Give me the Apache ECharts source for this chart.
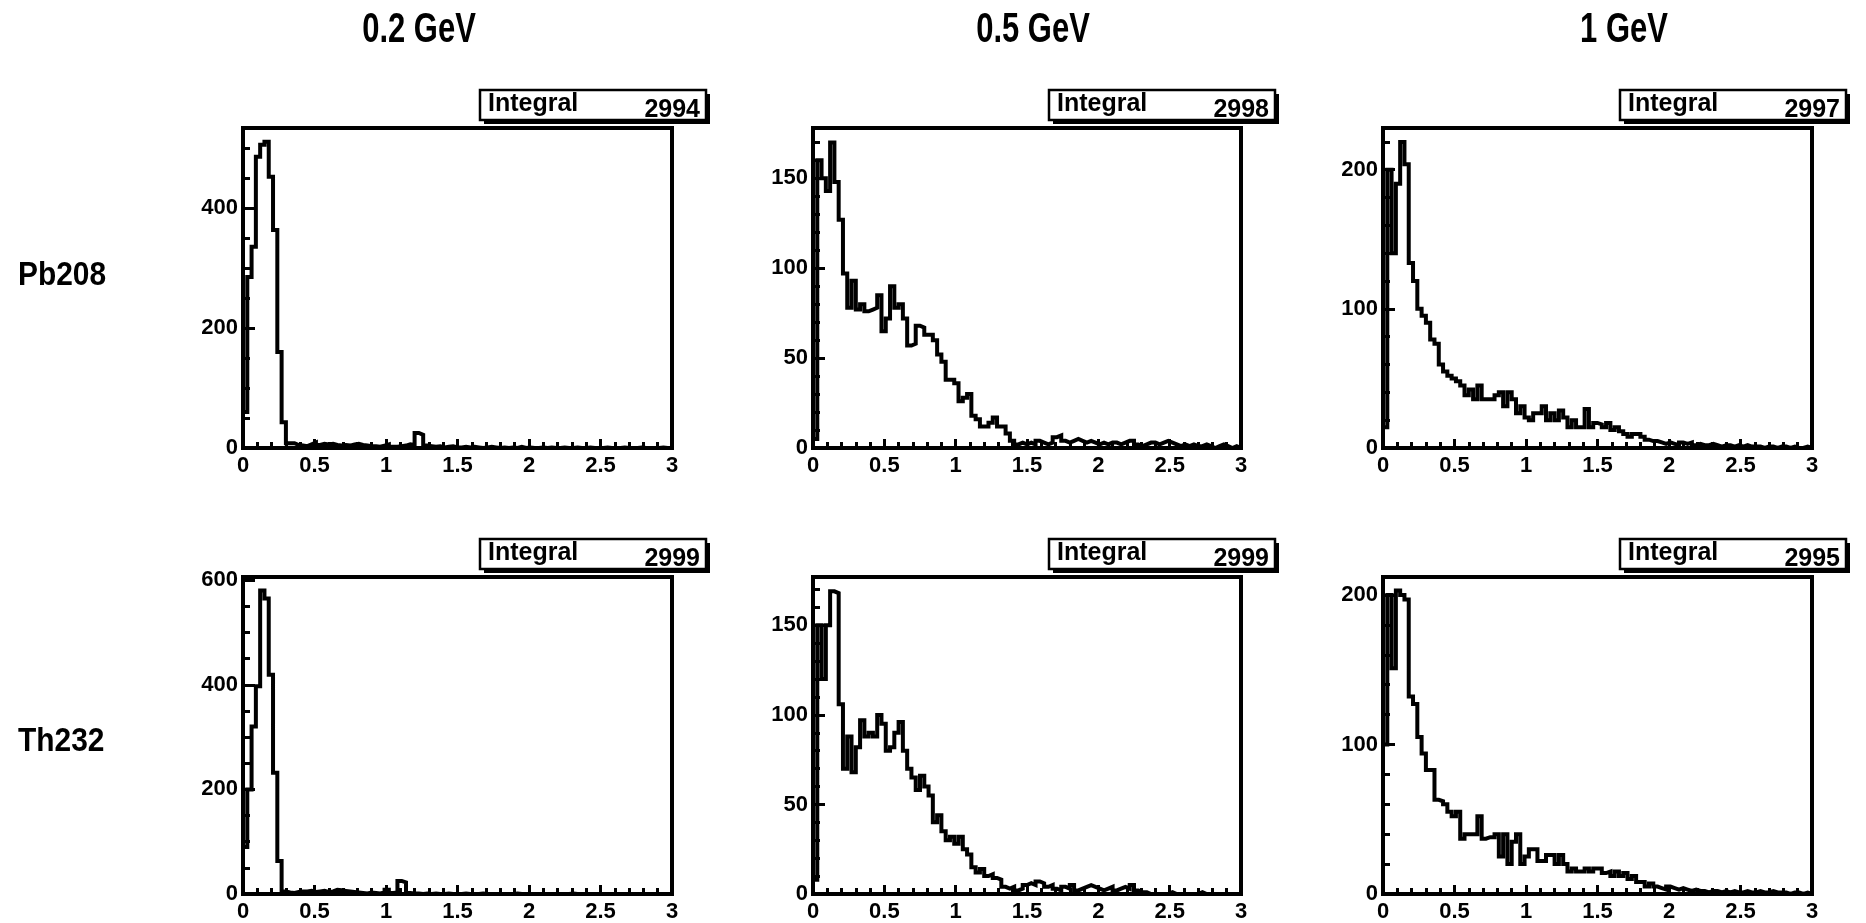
<!DOCTYPE html>
<html>
<head>
<meta charset="utf-8">
<title>Histograms</title>
<script src="https://cdn.jsdelivr.net/npm/echarts@6.0.0/dist/echarts.min.js"></script>
<style>
  html, body { margin: 0; padding: 0; background: #fff; }
  #main { width: 1866px; height: 923px; }
</style>
</head>
<body>
<div id="main"></div>
<script>
// Column / row headings
const energies = ['0.2 GeV', '0.5 GeV', '1 GeV'];
const nuclei = ['Pb208', 'Th232'];

// Histogram binning: 100 bins on [0, 3]
const xLo = 0, xHi = 3;
const xTicks = ['0', '0.5', '1', '1.5', '2', '2.5', '3'];

// Bin contents, one array per panel
const pb208_02 = [
  60, 285, 335, 485, 505, 510, 452, 363, 160, 43,
  8, 8, 5, 4, 3, 6, 9, 5, 7, 6,
  7, 5, 4, 5, 4, 6, 7, 5, 4, 3,
  3, 2, 4, 6, 2, 2, 3, 4, 6, 5,
  25, 22, 4, 3, 2, 3, 1, 2, 3, 1,
  1, 2, 1, 2, 1, 0, 1, 2, 1, 0,
  1, 0, 1, 0, 2, 0, 1, 0, 0, 1,
  0, 1, 0, 0, 1, 0, 0, 1, 0, 0,
  1, 0, 0, 0, 1, 0, 0, 0, 1, 0,
  0, 0, 1, 0, 0, 0, 0, 1, 0, 0
];
const pb208_05 = [
  5, 160, 150, 143, 170, 148, 127, 97, 78, 93,
  77, 80, 76, 77, 78, 85, 65, 72, 90, 78,
  80, 72, 57, 58, 68, 67, 63, 63, 60, 52,
  48, 38, 38, 36, 26, 28, 30, 18, 16, 12,
  12, 14, 17, 12, 12, 8, 4, 2, 3, 2,
  3, 2, 4, 3, 2, 3, 6, 7, 4, 3,
  4, 5, 4, 3, 4, 3, 2, 3, 2, 3,
  3, 2, 3, 4, 4, 2, 1, 2, 3, 3,
  2, 3, 4, 3, 2, 1, 2, 1, 2, 1,
  1, 2, 1, 0, 1, 2, 1, 0, 1, 0
];
const pb208_1 = [
  15, 200, 140, 190, 220, 204, 133, 120, 100, 95,
  90, 78, 75, 60, 55, 52, 50, 48, 45, 38,
  42, 35, 45, 35, 35, 35, 38, 40, 30, 40,
  35, 25, 30, 22, 20, 25, 25, 30, 20, 25,
  20, 27, 22, 15, 20, 15, 15, 28, 15, 18,
  17, 15, 18, 13, 15, 12, 10, 8, 10, 10,
  8, 6, 5, 5, 4, 3, 4, 3, 2, 4,
  3, 4, 2, 3, 2, 2, 3, 2, 1, 2,
  2, 1, 2, 1, 2, 1, 1, 1, 0, 1,
  1, 0, 1, 1, 0, 1, 0, 0, 1, 0
];
const th232_02 = [
  90, 200, 320, 397, 580, 565, 419, 232, 63, 5,
  3, 2, 4, 5, 5, 6, 4, 5, 6, 4,
  5, 8, 7, 6, 5, 4, 3, 2, 1, 3,
  2, 1, 3, 8, 2, 3, 25, 22, 2, 1,
  1, 0, 1, 0, 1, 0, 0, 1, 0, 0,
  0, 1, 0, 0, 0, 1, 0, 0, 0, 0,
  0, 0, 0, 1, 0, 0, 0, 0, 0, 0,
  0, 0, 0, 0, 0, 0, 1, 0, 0, 0,
  0, 0, 0, 0, 0, 0, 0, 0, 0, 0,
  0, 0, 0, 0, 0, 0, 0, 0, 0, 0
];
const th232_05 = [
  8, 150, 120, 150, 169, 168, 106, 70, 88, 68,
  82, 97, 88, 90, 88, 100, 95, 80, 82, 90,
  96, 80, 70, 65, 58, 66, 60, 55, 40, 44,
  35, 30, 32, 28, 32, 25, 22, 15, 12, 14,
  10, 11, 9, 8, 4, 3, 4, 2, 3, 5,
  6, 5, 7, 6, 4, 5, 3, 2, 4, 3,
  5, 2, 3, 4, 5, 4, 3, 2, 3, 4,
  2, 3, 4, 3, 5, 2, 1, 1, 0, 0,
  0, 0, 0, 1, 0, 0, 0, 0, 0, 0,
  1, 0, 0, 0, 0, 0, 0, 0, 0, 0
];
const th232_1 = [
  100, 200, 151, 203, 200, 197, 132, 127, 105, 94,
  83, 83, 63, 62, 60, 55, 52, 55, 37, 40,
  40, 40, 52, 37, 38, 38, 40, 25, 40, 20,
  35, 40, 20, 25, 30, 30, 22, 22, 26, 26,
  20, 26, 20, 15, 17, 15, 15, 17, 15, 17,
  17, 14, 15, 12, 15, 12, 14, 10, 12, 8,
  8, 5, 7, 5, 4, 3, 5, 4, 3, 4,
  3, 2, 3, 2, 2, 1, 2, 2, 1, 2,
  1, 2, 1, 1, 2, 1, 1, 2, 1, 1,
  2, 1, 1, 1, 0, 1, 1, 0, 1, 0
];

// Stated integrals shown in each statistics box
const integrals = [[2994, 2998, 2997], [2999, 2999, 2995]];

// Vertical axis setup per panel: upper limit, labelled step, small-tick step
const yMax = [[533, 178, 230], [606, 177, 212]];
const yStep = [[200, 50, 100], [200, 50, 100]];
const yMinorStep = [[50, 10, 20], [50, 10, 20]];

const panels = [[pb208_02, pb208_05, pb208_1], [th232_02, th232_05, th232_1]];

// Frame geometry (pixels)
const colLeft = [243, 813, 1383];
const colWidth = [429, 428, 429];
const rowTop = [128, 577];
const rowHeight = [320, 318];

const FONT = '"Liberation Sans", Arial, Helvetica, sans-serif';
const LW = 4;

// Step outline of a histogram, in data coordinates
function histOutline(counts) {
  const w = (xHi - xLo) / counts.length;
  const pts = [[xLo, 0]];
  counts.forEach((c, i) => pts.push([+(xLo + i * w).toFixed(6), c]));
  pts.push([xHi, counts[counts.length - 1]]);
  pts.push([xHi, 0]);
  return pts;
}

const grids = [], xAxes = [], yAxes = [], series = [], graphics = [];

for (let r = 0; r < 2; r++) {
  for (let c = 0; c < 3; c++) {
    const gi = r * 3 + c;
    grids.push({
      left: colLeft[c], top: rowTop[r], width: colWidth[c], height: rowHeight[r],
      show: true, borderColor: '#000', borderWidth: LW, backgroundColor: 'transparent'
    });
    xAxes.push({
      type: 'value', gridIndex: gi, min: xLo, max: xHi, interval: 0.5,
      axisLine: { show: true, onZero: false, lineStyle: { color: '#000', width: LW } },
      axisTick: { show: true, inside: true, length: 9, lineStyle: { color: '#000', width: 3 } },
      minorTick: { show: true, splitNumber: 5, length: 6, lineStyle: { color: '#000', width: 3 } },
      splitLine: { show: false },
      axisLabel: {
        margin: 7, color: '#000', fontFamily: FONT, fontWeight: 'bold', fontSize: 22,
        formatter: v => xTicks[Math.round(v / 0.5)]
      }
    });
    // labelled axis
    yAxes.push({
      type: 'value', gridIndex: gi, position: 'left', min: 0, max: yMax[r][c], interval: yStep[r][c],
      axisLine: { show: true, onZero: false, lineStyle: { color: '#000', width: LW } },
      axisTick: { show: true, inside: true, length: 12, lineStyle: { color: '#000', width: 3 } },
      splitLine: { show: false },
      axisLabel: {
        margin: 5, color: '#000', fontFamily: FONT, fontWeight: 'bold', fontSize: 22,
        showMaxLabel: false
      }
    });
    // small ticks only
    yAxes.push({
      type: 'value', gridIndex: gi, position: 'left', offset: 0, min: 0, max: yMax[r][c],
      interval: yMinorStep[r][c],
      axisLine: { show: false },
      axisTick: { show: true, inside: true, length: 7, lineStyle: { color: '#000', width: 3 } },
      axisLabel: { show: false },
      splitLine: { show: false }
    });
    series.push({
      type: 'line', xAxisIndex: gi, yAxisIndex: gi * 2, step: 'end',
      data: histOutline(panels[r][c]),
      showSymbol: false, symbol: 'none', clip: true, animation: false,
      lineStyle: { color: '#000', width: LW, join: 'miter' }, z: 3
    });

    // statistics box
    const right = colLeft[c] + colWidth[c];
    const top = rowTop[r];
    const bx = right - 192, by = top - 38, bw = 226, bh = 30;
    graphics.push({
      type: 'rect', shape: { x: bx + 4, y: by + 4, width: bw, height: bh },
      style: { fill: '#000' }, z: 10
    });
    graphics.push({
      type: 'rect', shape: { x: bx, y: by, width: bw, height: bh },
      style: { fill: '#fff', stroke: '#000', lineWidth: 2.5 }, z: 11
    });
    graphics.push({
      type: 'text', x: bx + 8, y: by + 14, z: 12,
      style: { text: 'Integral', font: 'bold 25px ' + FONT, fill: '#000',
               align: 'left', verticalAlign: 'middle', textAlign: 'left', textVerticalAlign: 'middle' }
    });
    graphics.push({
      type: 'text', x: bx + bw - 6, y: by + 20, z: 12,
      style: { text: String(integrals[r][c]), font: 'bold 25px ' + FONT, fill: '#000',
               align: 'right', verticalAlign: 'middle', textAlign: 'right', textVerticalAlign: 'middle' }
    });
  }
}

// column headings
const titleX = [419, 1033, 1624];
energies.forEach((t, i) => {
  graphics.push({
    type: 'text', x: titleX[i], y: 30, scaleX: 0.72, z: 12,
    style: { text: t, font: 'bold 43px ' + FONT, fill: '#000',
             align: 'center', verticalAlign: 'middle', textAlign: 'center', textVerticalAlign: 'middle' }
  });
});
// row headings
const rowLabelY = [276, 742];
nuclei.forEach((t, i) => {
  graphics.push({
    type: 'text', x: 18, y: rowLabelY[i], scaleX: 0.88, z: 12,
    style: { text: t, font: 'bold 34px ' + FONT, fill: '#000',
             align: 'left', verticalAlign: 'middle', textAlign: 'left', textVerticalAlign: 'middle' }
  });
});

const chart = echarts.init(document.getElementById('main'), null, { renderer: 'canvas' });
chart.setOption({
  backgroundColor: '#fff',
  animation: false,
  grid: grids,
  xAxis: xAxes,
  yAxis: yAxes,
  series: series,
  graphic: { elements: graphics }
});
</script>
</body>
</html>
